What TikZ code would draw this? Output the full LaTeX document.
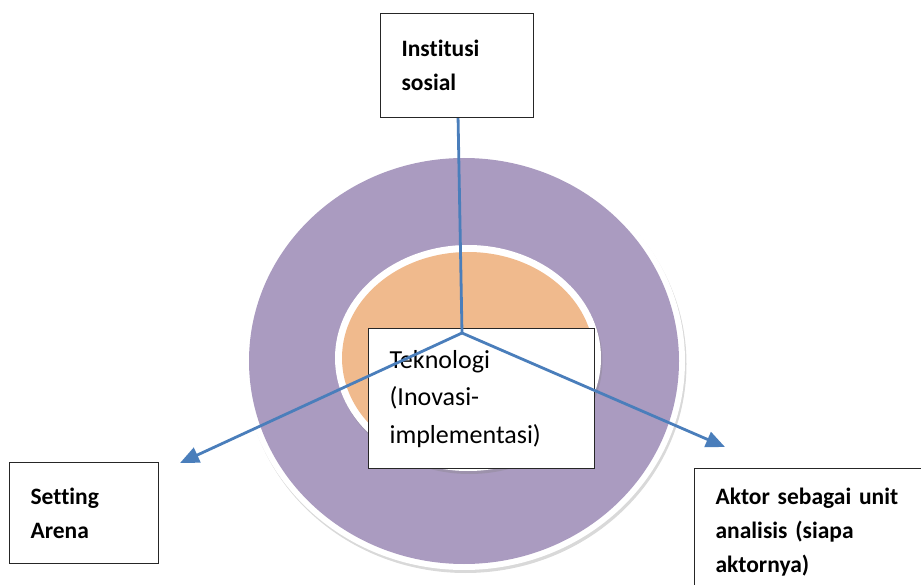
\documentclass[tikz,border=0pt]{standalone}
\usepackage{fontspec}
\setmainfont{Carlito}[Ligatures={NoCommon}]
\usepackage{tikz}
\usetikzlibrary{arrows.meta,shadows}
\definecolor{ringpurple}{RGB}{170,155,192}
\definecolor{corepeach}{RGB}{240,186,141}
\definecolor{linkblue}{RGB}{74,126,187}
\tikzstyle{labelbox} = [rectangle, draw=black!85, line width=1.2pt, fill=white, anchor=north west, align=left, inner xsep=21pt, inner ysep=0pt, font=\bfseries\fontsize{23.5}{34}\selectfont]
\tikzset{
  corebox/.style={labelbox, font=\mdseries\fontsize{26}{37.5}\selectfont},
  link/.style={line width=2.8pt, draw=linkblue},
  arrow/.style={link, ->, >={Triangle[length=19pt,width=16pt]}},
  ringshadow/.style={drop shadow={opacity=0.3, shadow xshift=1.5pt, shadow yshift=-3pt}},
}

\begin{document}
\begin{tikzpicture}[x=1pt, y=-1pt]
\useasboundingbox (0,0) rectangle (921,585);
% outer ring and core
\fill[white, ringshadow] (464,361) ellipse [x radius=221, y radius=209];
\fill[ringpurple] (464,361) ellipse [x radius=215, y radius=203];
\fill[white, ringshadow] (468,358) ellipse [x radius=133, y radius=113];
\fill[corepeach] (468,358) ellipse [x radius=126, y radius=106];

\node (inst) [labelbox, text width=111pt, minimum height=104pt] at (380,13) {Institusi\\sosial};
\node (tekno) [corebox, text width=184pt, minimum height=140pt] at (368,328) {Teknologi\\(Inovasi-\\implementasi)};
\node (setting) [labelbox, text width=107pt, minimum height=101pt] at (9,462) {Setting\\Arena};
\node (aktor) [labelbox, text width=210pt, minimum height=127pt] at (694,468) {Aktor sebagai unit\\analisis (siapa\\aktornya)};

\coordinate (hub) at (462,333);
\coordinate (settip) at (180,463);
\coordinate (akttip) at (725,447);

\draw [link] (inst) -- (hub);
\draw [arrow] (hub) -- (settip);
\draw [arrow] (hub) -- (akttip);
\end{tikzpicture}
\end{document}
